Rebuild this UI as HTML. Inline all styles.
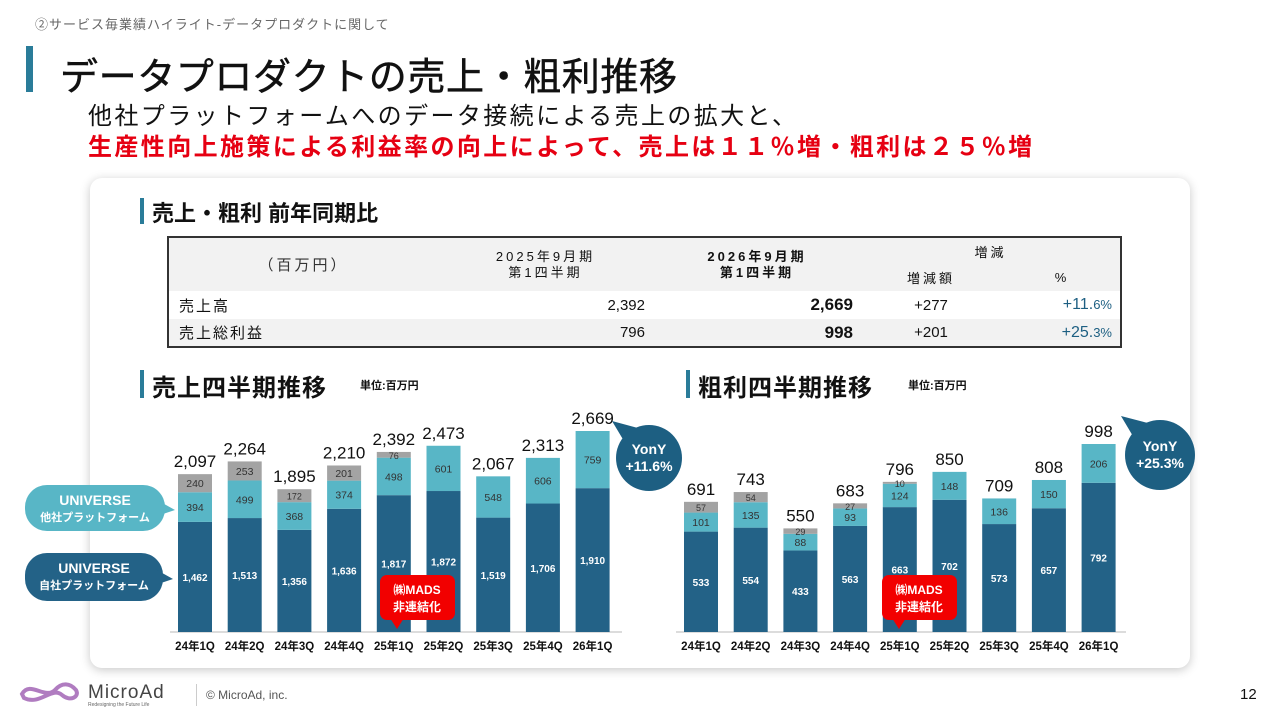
<!DOCTYPE html>
<html><head><meta charset="utf-8">
<style>
*{margin:0;padding:0;box-sizing:border-box}
body{width:1280px;height:720px;position:relative;background:#fff;font-family:"Liberation Sans","Noto Sans CJK JP",sans-serif;overflow:hidden;color:#111}
.abs{position:absolute;white-space:nowrap}
.bar{position:absolute;background:#2a7c99}
table{border-collapse:collapse}
</style></head><body>
<div class="abs" style="left:35px;top:14px;font-size:13px;color:#666;letter-spacing:1px">②サービス毎業績ハイライト-データプロダクトに関して</div>
<div class="bar" style="left:26px;top:46px;width:7px;height:46px"></div>
<div class="abs" style="left:60px;top:46px;font-size:38px;color:#111;letter-spacing:0.6px;-webkit-text-stroke:0.5px #111">データプロダクトの売上・粗利推移</div>
<div class="abs" style="left:88px;top:96px;font-size:24px;letter-spacing:2.4px">他社プラットフォームへのデータ接続による売上の拡大と、</div>
<div class="abs" style="left:88px;top:127px;font-size:24px;letter-spacing:2.4px;color:#e60012;font-weight:bold">生産性向上施策による利益率の向上によって、売上は１１％増・粗利は２５％増</div>

<div style="position:absolute;left:90px;top:178px;width:1100px;height:490px;background:#fff;border-radius:12px;box-shadow:0 2px 10px rgba(0,0,0,0.22)"></div>

<div class="bar" style="left:140px;top:198px;width:4px;height:26px"></div>
<div class="abs" style="left:152px;top:196px;font-size:22px;font-weight:bold">売上・粗利 前年同期比</div>

<table style="position:absolute;left:167px;top:236px;width:955px;border:2px solid #333;font-size:15px">
<tr style="background:#f2f2f2;height:27px">
<td rowspan="2" style="width:270px;text-align:center;letter-spacing:3px;color:#333">（百万円）</td>
<td rowspan="2" style="width:215px;text-align:center;font-size:13px;letter-spacing:3px;line-height:16px">2025年9月期<br>第1四半期</td>
<td rowspan="2" style="width:208px;text-align:center;font-size:13px;letter-spacing:3px;line-height:16px;font-weight:bold">2026年9月期<br>第1四半期</td>
<td colspan="2" style="text-align:center;font-size:13px;letter-spacing:3px">増減</td></tr>
<tr style="background:#f2f2f2;height:27px"><td style="width:140px;text-align:center;font-size:13px;letter-spacing:3px">増減額</td><td style="text-align:center;font-size:13px">%</td></tr>
<tr style="height:28px"><td style="padding-left:10px;letter-spacing:2px">売上高</td><td style="text-align:right;padding-right:8px">2,392</td><td style="text-align:right;padding-right:8px;font-size:17px;font-weight:bold">2,669</td><td style="text-align:center">+277</td><td style="text-align:right;padding-right:8px;color:#1d5f82;font-size:16px">+11.<span style="font-size:13px">6%</span></td></tr>
<tr style="height:28px;background:#f2f2f2"><td style="padding-left:10px;letter-spacing:2px">売上総利益</td><td style="text-align:right;padding-right:8px">796</td><td style="text-align:right;padding-right:8px;font-size:17px;font-weight:bold">998</td><td style="text-align:center">+201</td><td style="text-align:right;padding-right:8px;color:#1d5f82;font-size:16px">+25.<span style="font-size:13px">3%</span></td></tr>
</table>

<div class="bar" style="left:140px;top:370px;width:4px;height:28px"></div>
<div class="abs" style="left:152px;top:368px;font-size:24px;font-weight:bold;letter-spacing:1px">売上四半期推移</div>
<div class="abs" style="left:360px;top:377px;font-size:11px;font-weight:bold">単位:百万円</div>
<div class="bar" style="left:686px;top:370px;width:4px;height:28px"></div>
<div class="abs" style="left:698px;top:368px;font-size:24px;font-weight:bold;letter-spacing:1px">粗利四半期推移</div>
<div class="abs" style="left:908px;top:377px;font-size:11px;font-weight:bold">単位:百万円</div>

<svg id="charts" width="1280" height="720" style="position:absolute;left:0;top:0" font-family="Liberation Sans, Noto Sans CJK JP, sans-serif"></svg>

<div class="abs" style="left:196px;top:684px;height:22px;border-left:1px solid #ccc;padding-left:9px;font-size:12px;color:#555;line-height:22px">© MicroAd, inc.</div>
<div class="abs" style="left:1240px;top:686px;font-size:15px">12</div>

<script>
const categories=["24年1Q","24年2Q","24年3Q","24年4Q","25年1Q","25年2Q","25年3Q","25年4Q","26年1Q"];
const salesOwn=[1462,1513,1356,1636,1817,1872,1519,1706,1910];
const salesOther=[394,499,368,374,498,601,548,606,759];
const salesGray=[240,253,172,201,76,0,0,0,0];
const salesTotal=[2097,2264,1895,2210,2392,2473,2067,2313,2669];
const profitOwn=[533,554,433,563,663,702,573,657,792];
const profitOther=[101,135,88,93,124,148,136,150,206];
const profitGray=[57,54,29,27,10,0,0,0,0];
const profitTotal=[691,743,550,683,796,850,709,808,998];
const salesYoY="+11.6%";
const profitYoY="+25.3%";

const NS="http://www.w3.org/2000/svg";
const svg=document.getElementById('charts');
function mk(tag,attrs,parent){const e=document.createElementNS(NS,tag);for(const k in attrs)e.setAttribute(k,attrs[k]);(parent||svg).appendChild(e);return e;}
function fmt(v){return v.toLocaleString('en-US');}

function drawChart(prefix,x0,step,bw,base,maxVal,maxPx,own,other,gray,total,axisL,axisR){
  const y=v=>base-v*maxPx/maxVal;
  const h=v=>v*maxPx/maxVal;
  const xc=i=>x0+i*step;
  const ax=mk('line',{x1:axisL,x2:axisR,y1:base,y2:base,stroke:'#d0d0d0','stroke-width':1.5});
  
  
  categories.forEach((c,i)=>{
    const g=mk('g',{});
    
    
    const segs=[[own[i],'#236287','#fff'],[other[i],'#58b6c6','#333'],[gray[i],'#a3a3a3','#333']];
    let acc=0;
    segs.forEach(([v,col,tc],k)=>{
      if(v<=0)return;
      const top=y(acc+v);
      mk('rect',{x:xc(i)-bw/2,y:top,width:bw,height:h(v),fill:col},g);
      const fs=k==0?10:(h(v)<14?9:10.5);
      const t=mk('text',{x:xc(i),y:top+h(v)/2+4,'text-anchor':'middle','font-size':fs,fill:tc,'font-weight':k==0?'bold':'normal'},g);
      t.textContent=fmt(v);
      acc+=v;
    });
    const tt=mk('text',{x:xc(i),y:y(acc)-7,'text-anchor':'middle','font-size':17,fill:'#111'});
    tt.textContent=fmt(total[i]);
    
    
    const lt=mk('text',{x:xc(i),y:base+18,'text-anchor':'middle','font-size':11.5,'font-weight':'bold',fill:'#111'});
    lt.textContent=c;
    
    
  });
}
drawChart('sales',195,49.7,34,632,2669,201,salesOwn,salesOther,salesGray,salesTotal,170,622);
drawChart('profit',701,49.7,34,632,998,188,profitOwn,profitOther,profitGray,profitTotal,676,1126);

function yoy(name,cx,cy,r,txt){
  const g=mk('g',{});
  
  
  mk('path',{d:`M${cx-r*0.75},${cy-r*0.5} L${cx-r-4},${cy-r-4} L${cx-r*0.3},${cy-r*0.9} Z`,fill:'#1d5f82'},g);
  mk('circle',{cx:cx,cy:cy,r:r,fill:'#1d5f82'},g);
  const a=mk('text',{x:cx,y:cy-4,'text-anchor':'middle','font-size':14,'font-weight':'bold',fill:'#fff'},g);a.textContent='YonY';
  const b=mk('text',{x:cx,y:cy+13,'text-anchor':'middle','font-size':14,'font-weight':'bold',fill:'#fff'},g);b.textContent=txt;
}
yoy('sales-yoy-badge',649,458,33,salesYoY);
yoy('profit-yoy-badge',1160,455,35,profitYoY);

function bubble(name,x,y,w,hh,col,l1,l2){
  const g=mk('g',{});
  
  
  mk('rect',{x:x,y:y,width:w,height:hh,rx:22,fill:col},g);
  mk('path',{d:`M${x+w-8},${y+hh/2-8} L${x+w+10},${y+hh/2+2} L${x+w-8},${y+hh/2+8} Z`,fill:col},g);
  const a=mk('text',{x:x+w/2,y:y+20,'text-anchor':'middle','font-size':14,'font-weight':'bold',fill:'#fff'},g);a.textContent=l1;
  const b=mk('text',{x:x+w/2,y:y+36,'text-anchor':'middle','font-size':11,'font-weight':'bold',fill:'#fff'},g);b.textContent=l2;
}
bubble('legend-universe-other',25,485,140,46,'#58b6c6','UNIVERSE','他社プラットフォーム');
bubble('legend-universe-own',25,553,138,48,'#236287','UNIVERSE','自社プラットフォーム');

function mads(name,x){
  const g=mk('g',{});
  
  
  mk('rect',{x:x,y:575,width:75,height:45,rx:7,fill:'#f20000'},g);
  mk('path',{d:`M${x+10},618 L${x+17},629 L${x+24},618 Z`,fill:'#f20000'},g);
  const a=mk('text',{x:x+37,y:594,'text-anchor':'middle','font-size':12,'font-weight':'bold',fill:'#fff'},g);a.textContent='㈱MADS';
  const b=mk('text',{x:x+37,y:611,'text-anchor':'middle','font-size':12,'font-weight':'bold',fill:'#fff'},g);b.textContent='非連結化';
}
mads('sales-mads-note',380);
mads('profit-mads-note',882);

const lg=mk('g',{});


mk('path',{d:'M22,694 C30,680 45,700 55,690 C62,682 70,683 76,690 C80,697 70,702 62,695 C52,686 40,706 24,698 Z',fill:'none',stroke:'#b07cc0','stroke-width':4},lg);
const lt=mk('text',{x:88,y:698,'font-size':19,fill:'#444','letter-spacing':1},lg);lt.textContent='MicroAd';
const ls=mk('text',{x:88,y:706,'font-size':5,fill:'#666'},lg);ls.textContent='Redesigning the Future Life';
</script>
</body></html>
